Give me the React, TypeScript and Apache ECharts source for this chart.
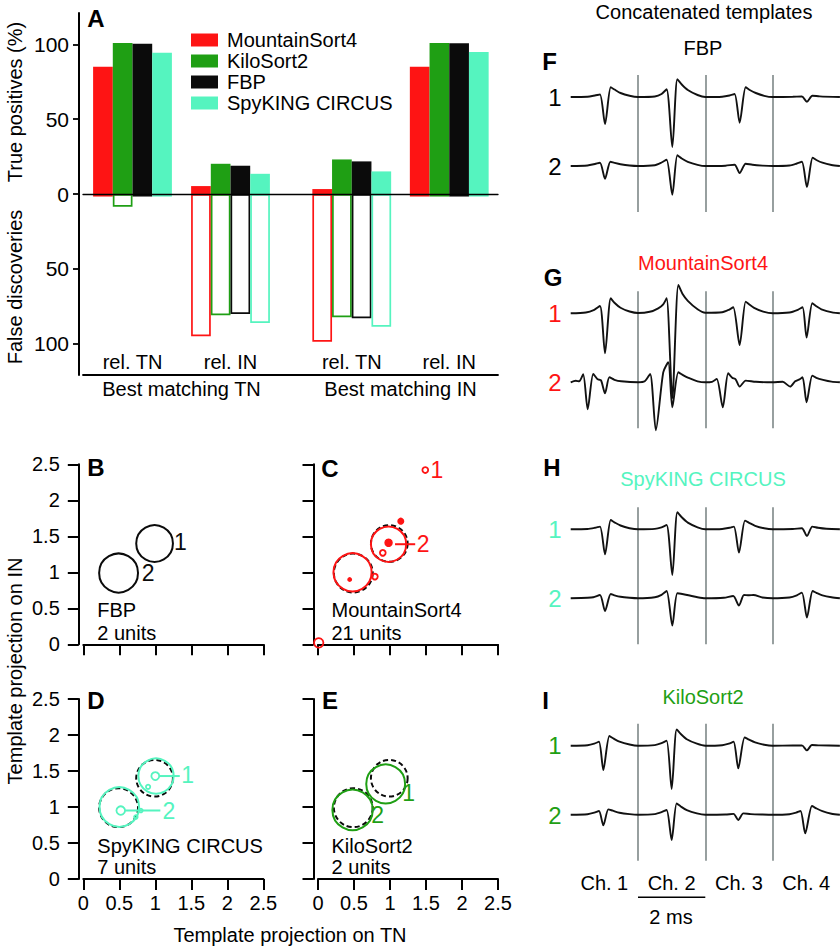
import React, { useEffect, useRef } from "react";
import * as echarts from "echarts";

const FONT = '"Liberation Sans", Arial, Helvetica, sans-serif';
const RED = "#fe1414";
const GREEN = "#1f9f14";
const BLACK = "#0b0b0b";
const CYAN = "#55f4bf";

// ---------- Panel A ----------
const SORTERS = ["MountainSort4", "KiloSort2", "FBP", "SpyKING CIRCUS"];
const SORTER_COLORS = [RED, GREEN, BLACK, CYAN];
const SUB_CATEGORIES = ["rel. TN", "rel. IN"];
const GROUPS = ["Best matching TN", "Best matching IN"];
const Y_TICKS_A = [-100, -50, 0, 50, 100];
// per sorter: [rel. TN, rel. IN] (%)
const TP_BEST_TN = [[85, 5.3], [101, 20.2], [100.5, 18.9], [94.5, 13.5]];
const FD_BEST_TN = [[1.7, 95.1], [8.5, 81], [1.7, 80.2], [1.7, 86.2]];
const TP_BEST_IN = [[3.3, 85], [23.1, 101], [21.8, 100.7], [15.1, 95]];
const FD_BEST_IN = [[98.7, 1.7], [82.4, 1.7], [83.1, 1.7], [88.7, 1.7]];

// ---------- Panels B-E: [x, y, radius] in template-projection units ----------
const FBP_UNITS = [[0.99, 1.4, 0.255], [0.49, 0.99, 0.27]];
const MS4_UNITS = [[0.98, 1.39, 0.245], [0.48, 1.0, 0.265]];
const MS4_SMALL_OPEN = [[1.49, 2.42, 0.04], [0.9, 1.27, 0.04], [0.79, 0.94, 0.04], [0.01, 0.02, 0.065]];
const MS4_SMALL_FILLED = [[1.15, 1.71, 0.035], [0.98, 1.41, 0.045], [0.44, 0.9, 0.02]];
const SC_UNITS = [[1.01, 1.43, 0.245], [0.5, 1.0, 0.275]];
const SC_SMALL = [[1.0, 1.43, 0.055], [0.9, 1.28, 0.03], [0.52, 0.95, 0.06], [0.8, 0.95, 0.025], [0.73, 0.86, 0.025]];
const KS_UNITS = [[0.94, 1.32, 0.27], [0.48, 0.96, 0.28]];
const FBP_LABELS = [[1.35, 1.425, "1"], [0.9, 0.99, "2"]];
const MS4_LABELS = [[1.65, 2.42, "1"], [1.46, 1.39, "2"]];
const SC_LABELS = [[1.45, 1.44, "1"], [1.19, 0.95, "2"]];
const KS_LABELS = [[1.26, 1.19, "1"], [0.83, 0.89, "2"]];
const MS4_LEADERS = [[1.07, 1.39, 1.35, 1.39]];
const SC_LEADERS = [[1.06, 1.43, 1.34, 1.43], [0.58, 0.95, 1.07, 0.95]];

// ---------- Panels F-I: concatenated templates [time ms, amplitude] ----------
const CHANNELS = ["Ch. 1", "Ch. 2", "Ch. 3", "Ch. 4"];
const CHANNEL_BOUNDS = [2, 4, 6];
const SCALE_BAR_MS = [2, 4];
const FBP_1 = [
  [0, 0], [0.5, 0.3], [0.72, 1.5], [0.87, 2.5], [1.02, -27], [1.19, 9.7], [1.3, 7.5], [1.48, 4], [1.75, 1.2], [2, 0],
  [2.5, 0.5], [2.7, 3], [2.85, 7.7], [3.02, -50], [3.17, 17.7], [3.3, 12.5], [3.48, 7], [3.77, 2], [4, 0],
  [4.5, 0.3], [4.72, 1.5], [4.87, 3], [5.02, -25.7], [5.2, 9.7], [5.32, 7], [5.5, 4], [5.75, 1.2], [6, 0],
  [6.6, 0.2], [6.87, 0.5], [7.02, -4.7], [7.18, 1.3], [7.4, 0.6], [8, 0],
];
const FBP_2 = [
  [0, 0], [0.5, 0.5], [0.72, 2], [0.87, 3.3], [1.02, -12.7], [1.18, 4.3], [1.3, 3.2], [1.48, 1.8], [1.75, 0.5], [2, 0],
  [2.5, 0.8], [2.7, 3.5], [2.85, 6.3], [3.02, -28.7], [3.17, 10.7], [3.3, 7.5], [3.48, 4.2], [3.77, 1.2], [4, 0],
  [4.6, 0.3], [4.87, 1.3], [5.02, -7], [5.2, 2.3], [5.4, 1.2], [5.7, 0.4], [6, 0],
  [6.5, 0.5], [6.72, 2.5], [6.87, 4.3], [7.02, -21], [7.19, 8.3], [7.3, 6], [7.48, 3.3], [7.75, 1], [8, 0],
];
const MS4_1 = [
  [0, 0], [0.45, 0.8], [0.7, 3.5], [0.87, 7.3], [1.02, -40], [1.19, 15], [1.3, 10.5], [1.48, 5.5], [1.75, 1.8], [2, 0.3],
  [2.35, 1.5], [2.6, 5], [2.75, 9], [2.85, 15], [3.02, -85], [3.2, 28.3], [3.33, 19], [3.48, 12.5], [3.77, 4], [4, 0.5],
  [4.5, 1], [4.7, 3.5], [4.83, 6], [5.02, -31.7], [5.2, 11.7], [5.3, 9], [5.45, 5.5], [5.72, 1.7], [6, 0],
  [6.5, 0.8], [6.75, 3.5], [6.89, 6], [7.01, -24.3], [7.18, 10], [7.3, 7], [7.45, 4], [7.8, 0.7], [8, 0],
];
const MS4_2 = [
  [0, 0], [0.15, 1.5], [0.25, 1], [0.37, 8], [0.505, -27], [0.67, 8.3], [0.8, 3], [0.9, 2], [1.02, -11], [1.15, 5], [1.3, 2.5], [1.5, 1], [2, 0],
  [2.2, 1], [2.36, 8.3], [2.53, -48], [2.75, 10], [2.9, 20], [3.02, -25], [3.2, 10], [3.35, 7], [3.5, 4.5], [3.77, 1], [4, 0],
  [4.2, 0.5], [4.34, 3.3], [4.52, -25], [4.68, 9], [4.8, 4.5], [4.9, 3], [5.02, -4.3], [5.2, 1.7], [5.5, 0.5], [6, 0],
  [6.3, 0.5], [6.52, -4.3], [6.67, 1], [6.8, 3], [6.89, 5], [7.01, -20], [7.18, 6.7], [7.3, 4.5], [7.5, 2.5], [7.75, 0.7], [8, 0],
];
const SC_1 = [
  [0, 0], [0.5, 0.3], [0.72, 1.5], [0.87, 2.7], [1.02, -25], [1.19, 9.3], [1.3, 7], [1.48, 3.8], [1.75, 1.1], [2, 0],
  [2.5, 0.4], [2.7, 2], [2.85, 4.3], [3.02, -45.7], [3.17, 17], [3.3, 12], [3.48, 6.7], [3.77, 2], [4, 0],
  [4.5, 0.3], [4.72, 1.5], [4.85, 2.7], [5.0, -23.3], [5.18, 8.7], [5.3, 6.5], [5.48, 3.5], [5.75, 1], [6, 0],
  [6.6, 0.3], [6.87, 1], [7.02, -6.7], [7.18, 2.7], [7.35, 1.5], [7.6, 0.5], [8, 0],
];
const SC_2 = [
  [0, 0], [0.5, 0.5], [0.67, 1], [0.87, 3.3], [1.02, -12.7], [1.19, 4.3], [1.3, 3], [1.48, 1.5], [1.75, 0.5], [2, 0],
  [2.5, 1], [2.7, 3.5], [2.85, 7.3], [3.02, -27.3], [3.17, 5], [3.35, 4], [3.5, 3], [3.77, 1], [4, 0],
  [4.55, 0.5], [4.83, 2.3], [5.0, -7.3], [5.15, 3.3], [5.3, 3], [5.43, 3.3], [5.7, 0.8], [6, 0],
  [6.5, 0.8], [6.72, 3], [6.87, 5.7], [7.02, -19.3], [7.19, 7.3], [7.3, 5.5], [7.48, 3], [7.75, 1], [8, 0],
];
const KS_1 = [
  [0, 0], [0.5, 0.5], [0.7, 2], [0.84, 4], [0.97, -24.3], [1.15, 9.7], [1.28, 7], [1.45, 4], [1.75, 1.2], [2, 0],
  [2.5, 0.6], [2.7, 2.5], [2.85, 5], [3.0, -43.3], [3.15, 16.3], [3.28, 11.5], [3.45, 6.5], [3.75, 2], [4, 0],
  [4.5, 0.5], [4.7, 2], [4.84, 4], [4.98, -22.7], [5.17, 8.3], [5.3, 6], [5.48, 3.3], [5.75, 1], [6, 0],
  [6.6, 0.2], [6.87, 0.3], [7.02, -4.7], [7.17, 0.7], [7.4, 0.3], [8, 0],
];
const KS_2 = [
  [0, 0], [0.5, 0.5], [0.7, 2], [0.84, 3.7], [0.97, -10.7], [1.12, 5.3], [1.25, 4], [1.45, 2], [1.75, 0.6], [2, 0],
  [2.5, 0.6], [2.7, 2.5], [2.85, 4.7], [3.0, -25.3], [3.15, 11.3], [3.28, 8], [3.45, 4.5], [3.75, 1.3], [4, 0],
  [4.6, 0.2], [4.84, 0.8], [4.98, -5.3], [5.13, 1.3], [5.35, 0.6], [5.7, 0.2], [6, 0],
  [6.5, 0.5], [6.7, 2], [6.83, 3.7], [6.97, -18.7], [7.17, 8.7], [7.3, 6.3], [7.48, 3.5], [7.75, 1], [8, 0],
];
const TRACE_GAP = 69;

function buildOption() {
  const G = (left: number, top: number, width: number, height: number) => ({
    left, top, width, height, containLabel: false, outerBoundsMode: "none",
  });
  const grid = [
    G(83, 13, 415, 362), // 0 frame A
    G(83, 44.4, 415, 299.2), // 1 ticks A
    G(83.5, 13, 196, 362), // 2 bars left
    G(303, 13, 195, 362), // 3 bars right
    G(83.3, 464.3, 180, 180), // 4 B
    G(318, 464.3, 180, 180), // 5 C
    G(83.3, 699, 180, 180), // 6 D
    G(318, 699, 180, 180), // 7 E
    G(570.7, 75, 269.2, 137), // 8 F
    G(570.7, 291.3, 269.2, 137), // 9 G
    G(570.7, 507.3, 269.2, 137), // 10 H
    G(570.7, 723.7, 269.2, 137), // 11 I
    G(570.7, 890, 269.2, 14.6), // 12 scale bar
  ];
  const hidden = (gridIndex: number, min: number, max: number) => ({
    type: "value", gridIndex, min, max, show: false,
  });
  const labelStyle = { fontSize: 20, color: "#000", fontFamily: FONT };

  const projX = (gridIndex: number, labels: boolean) => ({
    type: "value", gridIndex, min: 0, max: 2.5, interval: 0.5,
    axisLine: { show: true, onZero: false, lineStyle: { color: "#000", width: 2 } },
    axisTick: { show: true, length: 11, lineStyle: { color: "#000", width: 2 } },
    axisLabel: { show: labels, margin: 14, ...labelStyle },
    splitLine: { show: false },
  });
  const projY = (gridIndex: number, labels: boolean) => ({
    type: "value", gridIndex, min: 0, max: 2.5, interval: 0.5, offset: 4.5,
    axisLine: { show: true, onZero: false, lineStyle: { color: "#000", width: 2 } },
    axisTick: { show: true, length: 11, lineStyle: { color: "#000", width: 2 } },
    axisLabel: { show: labels, margin: 19, ...labelStyle },
    splitLine: { show: false },
  });
  const barX = (gridIndex: number, name: string) => ({
    type: "category", gridIndex, data: SUB_CATEGORIES,
    axisLine: { show: false }, axisTick: { show: false },
    axisLabel: { show: true, margin: -13.3, verticalAlign: "middle", ...labelStyle },
    name, nameLocation: "middle", nameGap: 14, nameMoveOverlap: false,
    nameTextStyle: { ...labelStyle, verticalAlign: "middle" },
  });
  const traceX = (gridIndex: number, labels: boolean) => ({
    type: "value", gridIndex, min: 0, max: 8, interval: 1,
    axisLine: { show: false }, axisTick: { show: false }, splitLine: { show: false },
    axisLabel: {
      show: labels, margin: 22, verticalAlign: "middle", ...labelStyle,
      formatter: (v: number) => (v % 2 === 1 ? CHANNELS[(v - 1) / 2] : ""),
    },
  });

  const xAxis = [
    { type: "value", gridIndex: 0, min: 0, max: 1, position: "bottom",
      axisLine: { show: true, onZero: false, lineStyle: { color: "#000", width: 1.8 } },
      axisTick: { show: false }, axisLabel: { show: false }, splitLine: { show: false } },
    { type: "value", gridIndex: 0, min: 0, max: 1, position: "bottom", z: 10,
      axisLine: { show: true, onZero: true, lineStyle: { color: "#000", width: 1.3 } },
      axisTick: { show: false }, axisLabel: { show: false }, splitLine: { show: false } },
    hidden(1, 0, 1),
    barX(2, GROUPS[0]),
    barX(3, GROUPS[1]),
    projX(4, false), projX(5, false), projX(6, true), projX(7, true),
    traceX(8, false), traceX(9, false), traceX(10, false), traceX(11, true),
    hidden(12, 0, 8),
  ];
  const yAxis = [
    { type: "value", gridIndex: 0, min: -121, max: 121, offset: 4,
      axisLine: { show: true, onZero: false, lineStyle: { color: "#000", width: 2 } },
      axisTick: { show: false }, axisLabel: { show: false }, splitLine: { show: false } },
    { type: "value", gridIndex: 1, min: Y_TICKS_A[0], max: Y_TICKS_A[Y_TICKS_A.length - 1], interval: 50, offset: 4,
      axisLine: { show: false, onZero: false },
      axisTick: { show: true, length: 6, lineStyle: { color: "#000", width: 1.8 } },
      axisLabel: { show: true, margin: 10, ...labelStyle, fontSize: 21, formatter: (v: number) => String(Math.abs(v)) },
      splitLine: { show: false } },
    hidden(2, -121, 121),
    hidden(3, -121, 121),
    projY(4, true), projY(5, false), projY(6, true), projY(7, false),
    hidden(8, -115, 22), hidden(9, -115, 22), hidden(10, -115, 22), hidden(11, -115, 22),
    hidden(12, -1, 1),
  ];

  const series: any[] = [];
  // Bars
  [[TP_BEST_TN, FD_BEST_TN], [TP_BEST_IN, FD_BEST_IN]].forEach(([tp, fd], g) => {
    SORTERS.forEach((name, i) => {
      const common = {
        type: "bar", xAxisIndex: 3 + g, yAxisIndex: 2 + g, stack: `g${g}s${i}`,
        barWidth: 19.7, barGap: "0%", silent: true,
      };
      series.push({ ...common, name, data: tp[i], itemStyle: { color: SORTER_COLORS[i] } });
      series.push({
        ...common, name: `${name} false discoveries`, data: fd[i].map((v) => -v),
        itemStyle: { color: "rgba(255,255,255,0)", borderColor: SORTER_COLORS[i], borderWidth: 1.7 },
      });
    });
  });

  // Projection panels
  const circles = (panel: number, data: number[][], color: string, o: { dashed?: boolean; filled?: boolean; width?: number } = {}) => ({
    type: "custom", xAxisIndex: 5 + panel, yAxisIndex: 4 + panel, data, silent: true, z: o.dashed ? 3 : 4,
    encode: { x: 0, y: 1 },
    renderItem: (_p: any, api: any) => {
      const c = api.coord([api.value(0), api.value(1)]);
      const s = api.size([api.value(2), api.value(2)]);
      return {
        type: "circle",
        shape: { cx: c[0], cy: c[1], r: s[0] },
        style: {
          fill: o.filled ? color : "none", stroke: color, lineWidth: o.width ?? 2,
          lineDash: o.dashed ? [5, 3] : null,
        },
      };
    },
  });
  const labels = (panel: number, data: any[], color: string) => ({
    type: "custom", xAxisIndex: 5 + panel, yAxisIndex: 4 + panel, silent: true, z: 5,
    data: data.map((d) => [d[0], d[1]]), encode: { x: 0, y: 1 },
    renderItem: (p: any, api: any) => {
      const c = api.coord([api.value(0), api.value(1)]);
      return {
        type: "text", x: c[0], y: c[1],
        style: { text: data[p.dataIndex][2], fontSize: 23, fontFamily: FONT, fill: color,
          align: "center", verticalAlign: "middle", textAlign: "center", textVerticalAlign: "middle" },
      };
    },
  });
  const leaders = (panel: number, data: number[][], color: string) => ({
    type: "custom", xAxisIndex: 5 + panel, yAxisIndex: 4 + panel, silent: true, z: 5,
    data, encode: { x: [0, 2], y: [1, 3] },
    renderItem: (_p: any, api: any) => {
      const a = api.coord([api.value(0), api.value(1)]);
      const b = api.coord([api.value(2), api.value(3)]);
      return { type: "line", shape: { x1: a[0], y1: a[1], x2: b[0], y2: b[1] }, style: { stroke: color, lineWidth: 2 } };
    },
  });
  series.push(circles(0, FBP_UNITS, BLACK), labels(0, FBP_LABELS, BLACK));
  series.push(
    circles(1, FBP_UNITS, BLACK, { dashed: true }),
    circles(1, MS4_UNITS, RED),
    circles(1, MS4_SMALL_OPEN, RED, { width: 1.8 }),
    circles(1, MS4_SMALL_FILLED, RED, { filled: true }),
    leaders(1, MS4_LEADERS, RED),
    labels(1, MS4_LABELS, RED),
  );
  series.push(
    circles(2, FBP_UNITS, BLACK, { dashed: true }),
    circles(2, SC_UNITS, CYAN),
    circles(2, SC_SMALL, CYAN, { width: 1.8 }),
    leaders(2, SC_LEADERS, CYAN),
    labels(2, SC_LABELS, CYAN),
  );
  series.push(
    circles(3, FBP_UNITS, BLACK, { dashed: true }),
    circles(3, KS_UNITS, GREEN),
    labels(3, KS_LABELS, GREEN),
  );

  // Templates
  const trace = (panel: number, data: number[][], offset: number, marks: boolean) => ({
    type: "line", xAxisIndex: 9 + panel, yAxisIndex: 8 + panel, silent: true,
    data: data.map(([t, v]) => [t, v + offset]), symbol: "none", showSymbol: false,
    smooth: 0.25, clip: false, z: 3,
    lineStyle: { color: "#111", width: 1.9 },
    markLine: marks
      ? {
          silent: true, symbol: ["none", "none"], label: { show: false }, z: 2,
          lineStyle: { color: "#7e8888", width: 1.6, type: "solid" },
          data: CHANNEL_BOUNDS.map((v) => ({ xAxis: v })),
        }
      : undefined,
  });
  [[FBP_1, FBP_2], [MS4_1, MS4_2], [SC_1, SC_2], [KS_1, KS_2]].forEach(([a, b], p) => {
    series.push(trace(p, a, 0, true), trace(p, b, -TRACE_GAP, false));
  });
  series.push({
    type: "line", xAxisIndex: 13, yAxisIndex: 12, silent: true, symbol: "none",
    data: SCALE_BAR_MS.map((t) => [t, 0]), lineStyle: { color: "#000", width: 1.6 },
  });

  const txt = (text: string, x: number, y: number, o: any = {}) => ({
    type: "text", x, y, rotation: o.rotation || 0, silent: true,
    style: {
      text, fontSize: o.size || 20, fontFamily: FONT, fontWeight: o.bold ? "bold" : "normal",
      fill: o.color || "#000",
      align: o.align || "center", textAlign: o.align || "center",
      verticalAlign: "middle", textVerticalAlign: "middle",
    },
  });
  const graphic = [
    txt("A", 96, 18, { bold: true, size: 24 }),
    txt("B", 96, 467, { bold: true, size: 24 }),
    txt("C", 330, 468, { bold: true, size: 24 }),
    txt("D", 96, 700, { bold: true, size: 24 }),
    txt("E", 330, 700, { bold: true, size: 24 }),
    txt("F", 549.5, 61, { bold: true, size: 24 }),
    txt("G", 553, 277, { bold: true, size: 24 }),
    txt("H", 552, 467, { bold: true, size: 24 }),
    txt("I", 545.5, 700, { bold: true, size: 24 }),
    txt("True positives (%)", 15, 102, { rotation: Math.PI / 2 }),
    txt("False discoveries", 15, 287, { rotation: Math.PI / 2 }),
    txt("Template projection on IN", 15, 671, { rotation: Math.PI / 2 }),
    txt("Template projection on TN", 290, 935),
    txt("FBP", 97.3, 610, { align: "left" }),
    txt("2 units", 97.3, 633, { align: "left" }),
    txt("MountainSort4", 331.5, 610, { align: "left" }),
    txt("21 units", 331.5, 633, { align: "left" }),
    txt("SpyKING CIRCUS", 97.3, 846, { align: "left" }),
    txt("7 units", 97.3, 867, { align: "left" }),
    txt("KiloSort2", 331.5, 846, { align: "left" }),
    txt("2 units", 331.5, 867, { align: "left" }),
    txt("Concatenated templates", 704, 12),
    txt("FBP", 703, 47.7),
    txt("MountainSort4", 703, 263.3, { color: RED }),
    txt("SpyKING CIRCUS", 703, 479.3, { color: CYAN }),
    txt("KiloSort2", 703, 697, { color: GREEN }),
    txt("1", 555, 97, { size: 24 }),
    txt("2", 555, 166, { size: 24 }),
    txt("1", 555, 313.3, { size: 24, color: RED }),
    txt("2", 555, 382, { size: 24, color: RED }),
    txt("1", 555, 529.3, { size: 24, color: CYAN }),
    txt("2", 555, 598.3, { size: 24, color: CYAN }),
    txt("1", 555, 745.7, { size: 24, color: GREEN }),
    txt("2", 555, 815, { size: 24, color: GREEN }),
    txt("2 ms", 671, 917),
  ];

  return {
    animation: false,
    backgroundColor: "#fff",
    textStyle: { fontFamily: FONT },
    grid, xAxis, yAxis, series, graphic,
    legend: {
      data: SORTERS, orient: "vertical", left: 191, top: 30, padding: 0,
      itemWidth: 27, itemHeight: 13, itemGap: 1, icon: "rect", selectedMode: false,
      textStyle: { fontSize: 20, fontFamily: FONT, color: "#000", padding: [0, 0, 0, 4] },
    },
  };
}

export default function App() {
  const ref = useRef<HTMLDivElement>(null);
  useEffect(() => {
    if (!ref.current) return;
    const chart = echarts.init(ref.current, null, { renderer: "svg" });
    chart.setOption(buildOption() as any);
    return () => chart.dispose();
  }, []);
  return (
    <div
      ref={ref}
      style={{ position: "absolute", left: 0, top: 0, width: 840, height: 949, background: "#fff" }}
    />
  );
}
